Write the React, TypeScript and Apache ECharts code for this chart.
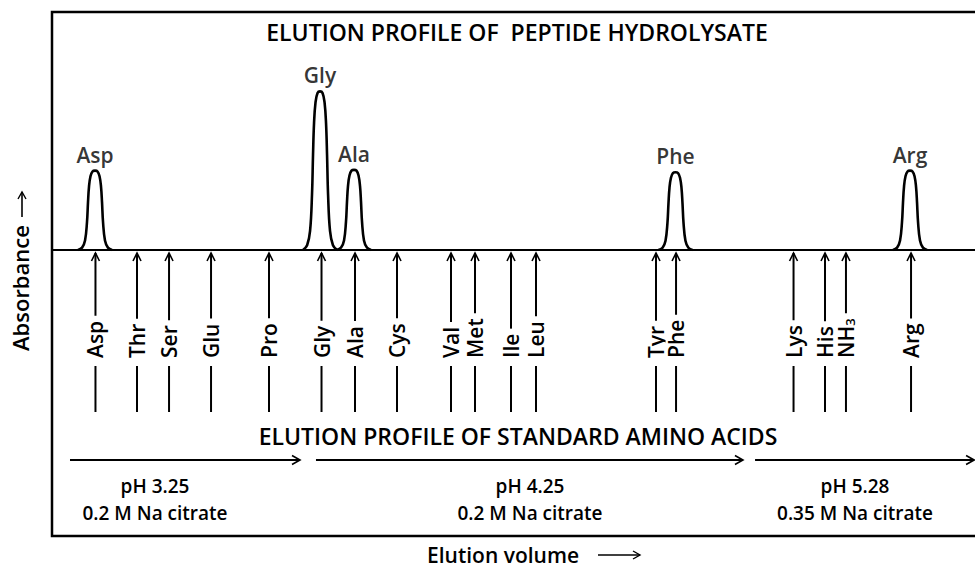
import React, { useEffect, useRef } from "react";
import * as echarts from "echarts";

// Peptide hydrolysate peaks (elution volume in arbitrary units 0-100, absorbance relative to Gly)
const PEAK_NAMES = ["Asp", "Gly", "Ala", "Phe", "Arg"];
const PEAK_POSITIONS = [4.66, 29.04, 32.72, 67.55, 92.96];
const PEAK_HEIGHTS = [0.5, 1.0, 0.505, 0.49, 0.5];
// Peak outline: offset from the peak centre and fraction of the peak height
const SHAPE_OFFSETS = [-1.85, -1.4, -1.08, -0.87, -0.76, -0.65, -0.49, -0.27, 0, 0.27, 0.49, 0.65, 0.76, 0.87, 1.08, 1.4, 1.85];
const SHAPE_FRACTIONS = [0, 0.03, 0.12, 0.35, 0.6, 0.8, 0.93, 0.99, 1, 0.99, 0.93, 0.8, 0.6, 0.35, 0.12, 0.03, 0];

// Standard amino acid elution positions
const STANDARD_NAMES = ["Asp", "Thr", "Ser", "Glu", "Pro", "Gly", "Ala", "Cys", "Val", "Met", "Ile", "Leu", "Tyr", "Phe", "Lys", "His", "NH3", "Arg"];
const STANDARD_POSITIONS = [4.71, 9.21, 12.68, 17.23, 23.51, 29.2, 32.83, 37.38, 43.23, 45.83, 49.73, 52.44, 65.44, 67.61, 80.34, 83.75, 86.02, 93.07];

// Buffer phases
const BUFFER_PH = ["pH 3.25", "pH 4.25", "pH 5.28"];
const BUFFER_SALT = ["0.2 M Na citrate", "0.2 M Na citrate", "0.35 M Na citrate"];
const BUFFER_START = [1.95, 28.6, 76.17];
const BUFFER_END = [26.87, 74.86, 99.9];
const BUFFER_LABEL_AT = [11.16, 51.79, 87.0];

const TITLE_TOP = "ELUTION PROFILE OF  PEPTIDE HYDROLYSATE";
const TITLE_BOTTOM = "ELUTION PROFILE OF STANDARD AMINO ACIDS";
const X_NAME = "Elution volume";
const Y_NAME = "Absorbance";

const FONT = "'Open Sans', 'Noto Sans', sans-serif";

export default function App() {
  const ref = useRef<HTMLDivElement>(null);

  useEffect(() => {
    document.body.style.margin = "0";
    const chart = echarts.init(ref.current!, null, { renderer: "svg" });

    const peakSeries = PEAK_NAMES.map((name, i) => ({
      type: "line",
      name,
      smooth: 0.4,
      symbol: "none",
      silent: true,
      z: 3,
      lineStyle: { color: "#000", width: 2.6 },
      data: SHAPE_OFFSETS.map((o, j) => [PEAK_POSITIONS[i] + o, PEAK_HEIGHTS[i] * SHAPE_FRACTIONS[j]]),
    }));

    const bufferText = (text: string, x: number, y: number) => ({
      type: "text",
      x,
      y,
      style: { text, fill: "#000", fontSize: 19, fontWeight: 600, fontFamily: FONT, align: "center", verticalAlign: "middle" },
    });

    const option: any = {
      animation: false,
      backgroundColor: "#fff",
      grid: { left: 52, right: 0, top: 12, height: 238, containLabel: false },
      xAxis: {
        type: "value",
        min: 0,
        max: 100,
        axisLine: { show: true, lineStyle: { color: "#000", width: 2 } },
        axisTick: { show: false },
        axisLabel: { show: false },
        splitLine: { show: false },
      },
      yAxis: { type: "value", min: 0, max: 1.5, show: false },
      series: [
        ...peakSeries,
        {
          type: "scatter",
          name: "peak labels",
          symbolSize: 1,
          itemStyle: { color: "rgba(0,0,0,0)" },
          silent: true,
          data: PEAK_POSITIONS.map((x, i) => [x, PEAK_HEIGHTS[i]]),
          label: {
            show: true,
            position: "top",
            distance: 5,
            formatter: (p: any) => PEAK_NAMES[p.dataIndex],
            color: "#000",
            fontSize: 21,
            fontWeight: 600,
            fontFamily: FONT,
          },
        },
        {
          type: "custom",
          name: "standards",
          silent: true,
          data: STANDARD_POSITIONS.map((x, i) => [x, i]),
          renderItem: (params: any, api: any) => {
            const idx = api.value(1);
            const base = api.coord([api.value(0), 0]);
            const x = base[0];
            const top = base[1] + 3;
            const bottom = 412;
            const name = STANDARD_NAMES[idx];
            const isNH3 = name === "NH3";
            return {
              type: "group",
              children: [
                { type: "line", shape: { x1: x, y1: top, x2: x, y2: bottom }, style: { stroke: "#000", lineWidth: 2 } },
                {
                  type: "polyline",
                  shape: { points: [[x - 4, top + 8], [x, top], [x + 4, top + 8]] },
                  style: { stroke: "#000", lineWidth: 1.6, fill: null },
                },
                {
                  type: "text",
                  x: x,
                  y: 366,
                  rotation: Math.PI / 2,
                  style: {
                    text: isNH3 ? "NH{s|3}" : name,
                    fill: "#000",
                    fontSize: 21,
                    fontWeight: 600,
                    fontFamily: FONT,
                    align: "left",
                    verticalAlign: "middle",
                    backgroundColor: "#fff",
                    padding: [0, 5, 0, 8],
                    rich: { s: { fontSize: 13, fontFamily: FONT, fontWeight: 600, fill: "#000", verticalAlign: "bottom" } },
                  },
                },
              ],
            };
          },
        },
        {
          type: "custom",
          name: "buffers",
          silent: true,
          data: BUFFER_START.map((s, i) => [s, BUFFER_END[i], BUFFER_LABEL_AT[i], i]),
          renderItem: (params: any, api: any) => {
            const i = api.value(3);
            const x1 = api.coord([api.value(0), 0])[0];
            const x2 = api.coord([api.value(1), 0])[0];
            const xl = api.coord([api.value(2), 0])[0];
            const y = 460;
            return {
              type: "group",
              children: [
                { type: "line", shape: { x1, y1: y, x2, y2: y }, style: { stroke: "#000", lineWidth: 2 } },
                {
                  type: "polyline",
                  shape: { points: [[x2 - 8, y - 4.5], [x2, y], [x2 - 8, y + 4.5]] },
                  style: { stroke: "#000", lineWidth: 1.6, fill: null },
                },
                bufferText(BUFFER_PH[i], xl, 486),
                bufferText(BUFFER_SALT[i], xl, 513),
              ],
            };
          },
        },
      ],
      graphic: [
        {
          type: "rect",
          shape: { x: 52, y: 12, width: 960, height: 524 },
          style: { fill: "none", stroke: "#000", lineWidth: 2.5 },
          silent: true,
        },
        {
          type: "text",
          x: 517,
          y: 32,
          style: { text: TITLE_TOP, fill: "#000", fontSize: 23, fontWeight: 600, fontFamily: FONT, align: "center", verticalAlign: "middle" },
        },
        {
          type: "text",
          x: 518,
          y: 436,
          style: { text: TITLE_BOTTOM, fill: "#000", fontSize: 23, fontWeight: 600, fontFamily: FONT, align: "center", verticalAlign: "middle" },
        },
        {
          type: "text",
          x: 20,
          y: 351,
          rotation: Math.PI / 2,
          style: { text: Y_NAME, fill: "#000", fontSize: 22, fontWeight: 600, fontFamily: FONT, align: "left", verticalAlign: "middle" },
        },
        { type: "line", shape: { x1: 22, y1: 217, x2: 22, y2: 192 }, style: { stroke: "#000", lineWidth: 1.6 } },
        { type: "polyline", shape: { points: [[18, 199], [22, 192], [26, 199]] }, style: { stroke: "#000", lineWidth: 1.4, fill: null } },
        {
          type: "text",
          x: 427,
          y: 555,
          style: { text: X_NAME, fill: "#000", fontSize: 21, fontWeight: 600, fontFamily: FONT, align: "left", verticalAlign: "middle" },
        },
        { type: "line", shape: { x1: 598, y1: 555, x2: 640, y2: 555 }, style: { stroke: "#000", lineWidth: 1.6 } },
        { type: "polyline", shape: { points: [[633, 551], [640, 555], [633, 559]] }, style: { stroke: "#000", lineWidth: 1.4, fill: null } },
      ],
    };

    chart.setOption(option);
    return () => chart.dispose();
  }, []);

  return <div ref={ref} style={{ width: 975, height: 571 }} />;
}
